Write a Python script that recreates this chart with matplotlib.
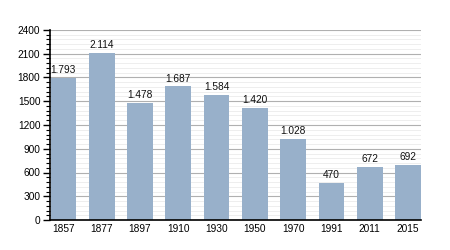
import numpy as np
import matplotlib

matplotlib.use("Agg")
import matplotlib.pyplot as plt
from matplotlib.ticker import MultipleLocator

years = ["1857", "1877", "1897", "1910", "1930", "1950", "1970", "1991", "2011", "2015"]
population = [1793, 2114, 1478, 1687, 1584, 1420, 1028, 470, 672, 692]
bar_labels = ["1.793", "2.114", "1.478", "1.687", "1.584", "1.420", "1.028", "470", "672", "692"]

plt.rcParams["font.family"] = ["Liberation Sans", "DejaVu Sans"]

fig = plt.figure(figsize=(4.5, 2.5), dpi=100)
ax = fig.add_axes([50 / 450, 30 / 250, 371 / 450, 190 / 250])

x = np.arange(len(years))
ax.bar(x, population, width=0.67, color="#98b0ca", zorder=3)
for xi, v, lab in zip(x, population, bar_labels):
    ax.annotate(lab, (xi, v), xytext=(0, 2), textcoords="offset points",
                ha="center", va="bottom", fontsize=7.3, color="#111111", zorder=4)

ax.set_xlim(-0.35, 9.34)
ax.set_ylim(0, 2400)
ax.yaxis.set_major_locator(MultipleLocator(300))
ax.yaxis.set_minor_locator(MultipleLocator(60))
ax.grid(axis="y", which="major", color="#b0b0b0", linewidth=0.8, zorder=0)
ax.grid(axis="y", which="minor", color="#ebebeb", linewidth=0.6, zorder=0)
ax.set_xticks(x)
ax.set_xticklabels(years)
ax.tick_params(axis="x", length=0, labelsize=7.3, pad=3)
ax.tick_params(axis="y", which="major", length=5, width=1, labelsize=7.3, pad=2)
ax.tick_params(axis="y", which="minor", length=3, width=0.8)
for side in ["top", "right"]:
    ax.spines[side].set_visible(False)
for side in ["left", "bottom"]:
    ax.spines[side].set_linewidth(1.2)
    ax.spines[side].set_zorder(5)

fig.savefig("out.png", dpi=100)
